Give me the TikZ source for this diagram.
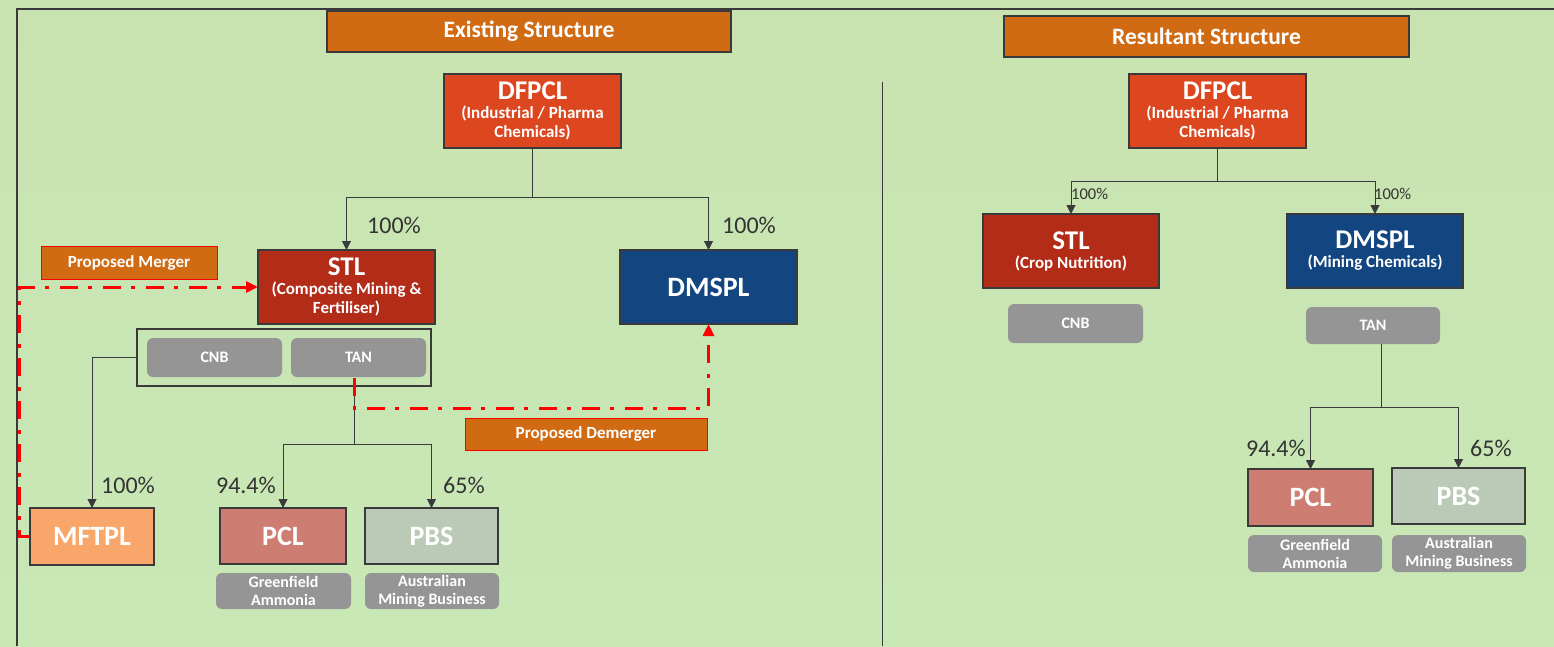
\documentclass[tikz,border=0pt]{standalone}
\usepackage{fontspec}
\setmainfont{Carlito}
\usetikzlibrary{arrows.meta}
\definecolor{bgtop}{HTML}{C9E3B0}
\definecolor{bgmid}{HTML}{B3E19E}
\definecolor{bgbot}{HTML}{C8E8B6}
\definecolor{orangebox}{HTML}{D06B14}
\definecolor{dfpclc}{HTML}{DC4720}
\definecolor{stlc}{HTML}{B22C18}
\definecolor{dmsplc}{HTML}{134680}
\definecolor{mftplc}{HTML}{F8A66A}
\definecolor{pclc}{HTML}{CD7D72}
\definecolor{pbsc}{HTML}{BBCAB6}
\definecolor{grayc}{HTML}{959595}
\definecolor{linec}{HTML}{3A3A3A}
\definecolor{pctc}{HTML}{333333}
\newcommand\fsz[2]{\fontsize{#1}{#2}\selectfont}
\begin{document}
\begin{tikzpicture}[x=1pt,y=-1pt,
  entity/.style={draw=linec, line width=1.5pt, text=white, font=\bfseries\fsz{17}{19},
    align=center, inner sep=0pt, outer sep=0pt},
  titlebox/.style={fill=orangebox, draw=linec, line width=1.2pt, text=white,
    font=\bfseries\fsz{23.5}{26}, inner sep=0pt, outer sep=0pt},
  notebox/.style={fill=orangebox, draw=red, line width=1pt, text=white,
    font=\bfseries\fsz{17}{19}, inner sep=0pt, outer sep=0pt},
  graybox/.style={fill=grayc, rounded corners=6pt, text=white, font=\bfseries\fsz{16}{18},
    align=center, inner sep=0pt, outer sep=0pt},
  conn/.style={draw=linec, line width=1pt, -{Triangle[width=9pt,length=9pt]}},
  plainconn/.style={draw=linec, line width=1pt},
  redconn/.style={draw=red, line width=3pt, dash pattern=on 18pt off 10pt on 4pt off 11pt,
    -{Triangle[width=11pt,length=12pt]}},
  pct/.style={text=pctc, font=\fsz{24}{26}, inner sep=0pt},
  pcts/.style={text=pctc, font=\fsz{16.5}{18}, inner sep=0pt},
  big/.style={font=\bfseries\fsz{28}{30}}
]
\useasboundingbox (0,0) rectangle (1554,646);
\shade[top color=bgtop, middle color=bgmid, bottom color=bgbot] (0,0) rectangle (1554,646);
\draw[linec, line width=2pt] (17,646) -- (17,9) -- (1554,9);
\draw[linec, line width=1pt] (882,82) -- (882,646);

% ---------- Existing structure ----------
\node[titlebox, minimum width=404pt, minimum height=41pt] (extitle) at (529,31.5) {Existing Structure};
\node[entity, fill=dfpclc, minimum width=177pt, minimum height=74pt] (dfpclL) at (532.5,111)
  {{\fsz{27}{28}DFPCL}\\(Industrial / Pharma\\Chemicals)};
\node[entity, fill=stlc, minimum width=177pt, minimum height=74pt] (stlL) at (346.5,287)
  {{\fsz{27}{28}STL}\\(Composite Mining \&\\Fertiliser)};
\node[entity, fill=dmsplc, minimum width=177pt, minimum height=74pt, big] (dmsplL) at (708.5,287) {DMSPL};
\node[notebox, minimum width=176pt, minimum height=33pt] (merger) at (129,262.5) {Proposed Merger};
\node[draw=linec, line width=1.5pt, minimum width=294pt, minimum height=57pt, inner sep=0pt, outer sep=0pt] (encl) at (284,357.5) {};
\node[graybox, minimum width=135pt, minimum height=39pt] (cnbL) at (214.5,357.5) {CNB};
\node[graybox, minimum width=135pt, minimum height=39pt] (tanL) at (358.5,357.5) {TAN};
\node[entity, fill=mftplc, minimum width=124pt, minimum height=57pt, big] (mftpl) at (92,536.5) {MFTPL};
\node[entity, fill=pclc, minimum width=126pt, minimum height=56pt, big] (pclL) at (283,536) {PCL};
\node[entity, fill=pbsc, minimum width=133pt, minimum height=56pt, big] (pbsL) at (431.5,536) {PBS};
\node[graybox, minimum width=135pt, minimum height=36pt] (greenL) at (283.5,591) {Greenfield\\Ammonia};
\node[graybox, minimum width=134pt, minimum height=36pt] (austL) at (432,591) {Australian\\Mining Business};
\node[notebox, minimum width=242pt, minimum height=32pt] (demerger) at (586,434) {Proposed Demerger};

\coordinate (jL1) at (532.5,197);
\draw[plainconn] (dfpclL.south) -- (jL1);
\draw[conn] (jL1) -| (stlL.north);
\draw[conn] (jL1) -| (dmsplL.north);
\draw[conn] (encl.west) -| (mftpl.north);
\coordinate (jL2) at (354,386);
\coordinate (jL3) at (354,444);
\draw[plainconn] (jL2) -- (jL3);
\draw[conn] (jL3) -| (pclL.north);
\draw[conn] (jL3) -| (pbsL.north);

\node[pct, anchor=base west] (pstl) at (367,233) {100\%};
\node[pct, anchor=base west] (pdms) at (722,233) {100\%};
\node[pct, anchor=base west] (pmft) at (101,493) {100\%};
\node[pct, anchor=base east] (ppcl) at (276,493) {94.4\%};
\node[pct, anchor=base west] (ppbs) at (443,493) {65\%};

\coordinate (mcorner) at (19,536.5);
\draw[redconn] (mftpl.west) -- (mcorner) |- (stlL.west);
\coordinate (d0) at (354,378);
\coordinate (d1) at (354,408);
\draw[redconn] (d0) -- (d1) -| (dmsplL.south);

% ---------- Resultant structure ----------
\node[titlebox, minimum width=405pt, minimum height=41pt] (restitle) at (1206.5,36.5) {Resultant Structure};
\node[entity, fill=dfpclc, minimum width=177pt, minimum height=74pt] (dfpclR) at (1217.5,111)
  {{\fsz{27}{28}DFPCL}\\(Industrial / Pharma\\Chemicals)};
\node[entity, fill=stlc, minimum width=176pt, minimum height=74pt] (stlR) at (1071,251)
  {{\fsz{27}{28}STL}\\(Crop Nutrition)};
\node[entity, fill=dmsplc, minimum width=176pt, minimum height=74pt] (dmsplR) at (1375,251)
  {{\fsz{27}{28}DMSPL}\\(Mining Chemicals)};
\node[graybox, minimum width=135pt, minimum height=39pt] (cnbR) at (1075.5,323.5) {CNB};
\node[graybox, minimum width=134pt, minimum height=37pt] (tanR) at (1373,325.5) {TAN};
\node[entity, fill=pclc, minimum width=125pt, minimum height=57pt, big] (pclR) at (1310.5,497.5) {PCL};
\node[entity, fill=pbsc, minimum width=133pt, minimum height=56pt, big] (pbsR) at (1458.5,496) {PBS};
\node[graybox, minimum width=134pt, minimum height=37pt] (greenR) at (1315,553.5) {Greenfield\\Ammonia};
\node[graybox, minimum width=134pt, minimum height=37pt] (austR) at (1459,553.5) {Australian\\Mining Business};

\coordinate (jR1) at (1217.5,181);
\draw[plainconn] (dfpclR.south) -- (jR1);
\draw[conn] (jR1) -| (stlR.north);
\draw[conn] (jR1) -| (dmsplR.north);
\coordinate (jR2) at (1381,344);
\coordinate (jR3) at (1381,407);
\draw[plainconn] (jR2) -- (jR3);
\draw[conn] (jR3) -| (pclR.north);
\draw[conn] (jR3) -| (pbsR.north);

\node[pcts, anchor=base west] (pstlR) at (1071,199) {100\%};
\node[pcts, anchor=base west] (pdmsR) at (1374,199) {100\%};
\node[pct, anchor=base east] (ppclR) at (1306,456) {94.4\%};
\node[pct, anchor=base west] (ppbsR) at (1470,456) {65\%};
\end{tikzpicture}
\end{document}
